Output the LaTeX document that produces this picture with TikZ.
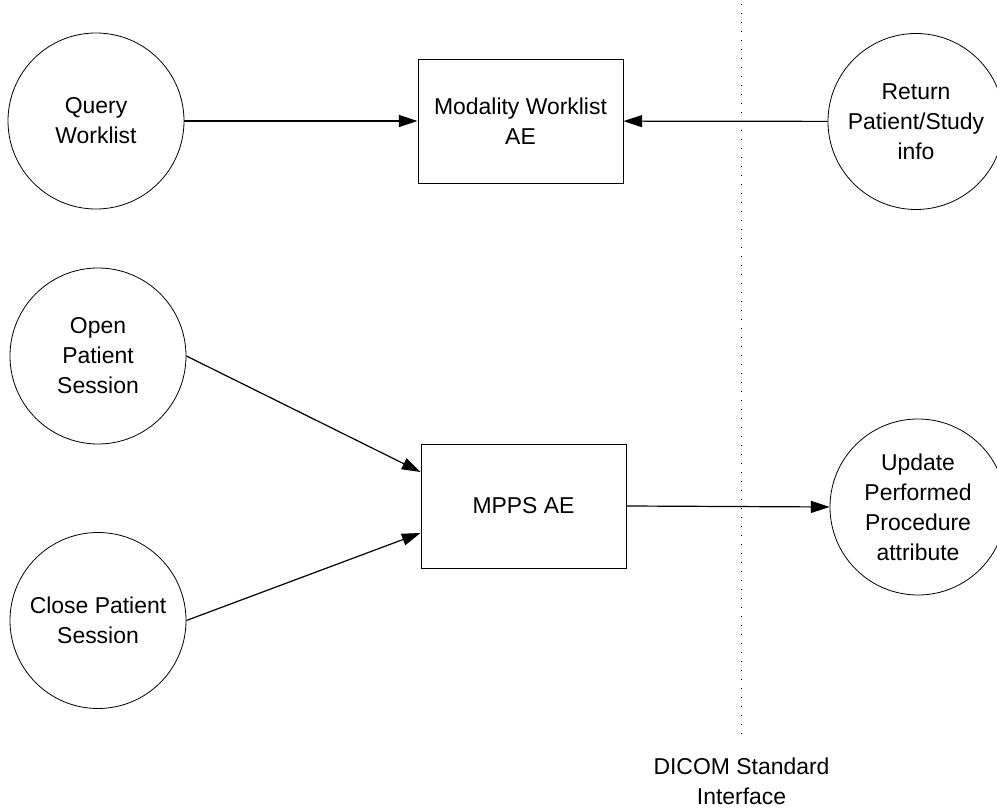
\documentclass[tikz,border=0pt]{standalone}
\usepackage{fontspec}
\setmainfont{Liberation Sans}
\usetikzlibrary{arrows.meta}
\begin{document}
\begin{tikzpicture}[x=0.75pt,y=-0.75pt,
  every node/.style={font=\fontsize{17.2pt}{22.5pt}\selectfont, align=center},
  proc/.style={circle, draw, line width=0.6pt, minimum size=132pt, inner sep=0pt},
  aebox/.style={rectangle, draw, line width=0.7pt, minimum width=153.75pt, minimum height=93pt, inner sep=0pt},
  flow/.style={line width=0.9pt, -{Triangle[length=14pt,width=9pt]}}]
\clip (0,0) rectangle (997,812);
\node[proc] (qw) at (96,121) {Query\\Worklist};
\node[aebox] (mw) at (520.5,121) {Modality Worklist\\AE};
\node[proc] (rp) at (916,121.5) {Return\\Patient/Study\\info};
\node[proc] (op) at (98,356) {Open\\Patient\\Session};
\node[proc] (cp) at (98,620.5) {Close Patient\\Session};
\node[aebox] (mp) at (523.5,506) {MPPS AE};
\node[proc] (up) at (918,507) {Update\\Performed\\Procedure\\attribute};
\coordinate (dtop) at (741.5,4);
\coordinate (dbot) at (741.5,737);
\draw[line width=0.8pt, dash pattern=on 0.8pt off 5.95pt] (dtop) -- (dbot);
\node (dicom) at (741.5,781) {DICOM Standard\\Interface};
\draw[flow] (qw) -- (mw);
\draw[flow] (rp) -- (mw);
\draw[flow] (op.east) -- ([yshift=25.5pt]mp.west);
\draw[flow] (cp.east) -- ([yshift=-20.25pt]mp.west);
\draw[flow] (mp.east) -- (up.west);
\end{tikzpicture}
\end{document}
